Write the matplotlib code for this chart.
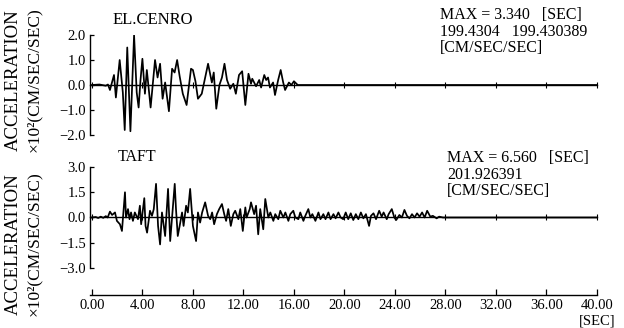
import matplotlib
matplotlib.use("Agg")
import matplotlib.pyplot as plt

plt.rcParams["font.family"] = ["Liberation Serif", "DejaVu Serif"]

# El Centro record, x10^2 cm/s/s
elc_t = [0.0, 0.6, 1.1, 1.27, 1.43, 1.75, 1.9, 2.2, 2.45, 2.6, 2.8, 3.05, 3.34,
         3.55, 3.7, 3.85, 4.0, 4.2, 4.35, 4.65, 5.0, 5.2, 5.4, 5.6, 5.8, 6.1,
         6.35, 6.55, 6.75, 6.95, 7.2, 7.5, 7.85, 8.0, 8.2, 8.4, 8.7, 8.95, 9.2,
         9.5, 9.65, 9.85, 10.1, 10.3, 10.5, 10.7, 10.95, 11.2, 11.4, 11.65,
         11.9, 12.15, 12.4, 12.6, 12.7, 13.0, 13.25, 13.4, 13.65, 13.8, 13.95,
         14.1, 14.35, 14.5, 14.75, 14.95, 15.15, 15.3, 15.6, 15.8, 16.0, 16.3,
         20.0, 40.0]
elc_a = [0.0, 0.02, -0.03, 0.02, -0.2, 0.4, -0.5, 1.0, -0.3, -1.8, 1.5, -1.85, 1.99,
         -0.3, -0.9, 0.2, 1.05, -0.35, 0.6, -0.9, 1.0, 0.3, 0.85, -0.55, 0.1, -1.05,
         0.65, 0.5, 1.0, 0.35, -0.35, -0.8, 0.65, 0.6, 0.15, -0.55, -0.35, 0.25, 0.85,
         0.1, 0.5, -0.95, 0.0, 0.3, 0.85, 0.2, -0.15, 0.05, -0.35, 0.4,
         0.55, -0.8, 0.45, 0.05, 0.25, -0.05, 0.2, -0.1, 0.4, 0.2, 0.3,
         -0.1, 0.1, -0.4, 0.2, 0.6, 0.1, -0.2, 0.1, 0.0, 0.15, 0.0,
         0.0, 0.0]

# Taft record, x10^2 cm/s/s
taft_t = [0.0, 0.3, 0.5, 0.7, 0.9, 1.1, 1.25, 1.43, 1.6, 1.83, 1.98, 2.22, 2.38,
          2.62, 2.7, 2.86, 2.98, 3.1, 3.25, 3.4, 3.65, 3.8, 3.9, 4.15, 4.25, 4.37,
          4.6, 4.76, 4.9, 5.08, 5.24, 5.4, 5.55, 5.8, 6.03, 6.2, 6.56, 6.66, 6.8,
          6.95, 7.14, 7.26, 7.46, 7.6, 7.78, 7.9, 8.0, 8.25, 8.4, 8.57, 8.73, 8.97,
          9.2, 9.37, 9.52, 9.68, 9.9, 10.08, 10.3, 10.48, 10.63, 10.8, 11.0, 11.2,
          11.35, 11.6, 11.75, 11.95, 12.15, 12.25, 12.4, 12.5, 12.6, 12.85, 13.0,
          13.17, 13.33, 13.57, 13.73, 13.97, 14.13, 14.37, 14.52, 14.76, 14.92,
          15.16, 15.32, 15.56, 15.71, 15.95, 16.11, 16.35, 16.5, 16.75, 16.9,
          17.14, 17.3, 17.46, 17.7, 17.94, 18.1, 18.33, 18.5, 18.73, 18.9, 19.13,
          19.3, 19.52, 19.7, 19.9, 20.1, 20.3, 20.5, 20.7, 20.9, 21.1, 21.3, 21.5,
          21.7, 21.95, 22.1, 22.3, 22.5, 22.75, 22.95, 23.1, 23.35, 23.5, 23.75,
          23.95, 24.1, 24.35, 24.55, 24.75, 24.95, 25.15, 25.35, 25.55, 25.75,
          25.95, 26.15, 26.35, 26.55, 26.8, 27.0, 27.3, 27.5, 27.8, 28.0, 40.0]
taft_a = [0.0, 0.03, -0.03, 0.05, -0.02, 0.08, 0.0, 0.35, 0.15, 0.3, -0.2, -0.4, -0.8,
          1.5, 0.0, 0.5, -0.1, 0.3, -0.2, 0.3, -0.1, 0.7, -0.4, 1.15, -0.5, -0.9,
          0.4, 0.1, 0.5, 2.0, -0.5, -1.6, 0.3, -1.1, 1.7, -1.4, 2.0, 0.5, -1.1,
          -0.5, 0.3, -0.5, 0.7, 0.3, 1.7, 0.5, -0.5, -1.4, 0.3, -0.3, 0.3, 0.9,
          0.1, -0.1, 0.3, -0.4, 0.2, 0.5, 0.8, 0.2, -0.2, 0.5, -0.5, 0.2,
          0.4, -0.1, 0.5, -0.8, 0.6, 0.0, 0.3, 0.5, 0.9, 0.2, 0.7,
          -1.0, 0.5, -0.7, 1.1, 0.0, 0.3, -0.2, 0.2, -0.1, 0.4,
          0.0, 0.3, -0.2, 0.2, 0.4, 0.0, -0.1, 0.3, -0.2, 0.1,
          0.5, 0.0, 0.2, -0.2, 0.3, -0.1, 0.2, -0.1, 0.3, -0.1, 0.2,
          -0.05, 0.3, 0.0, -0.1, 0.3, -0.1, 0.25, -0.15, 0.2, -0.1, 0.3, -0.05,
          0.2, -0.5, 0.1, 0.25, -0.1, 0.4, 0.05, 0.3, -0.1, 0.2, 0.5,
          0.0, -0.15, 0.15, 0.0, 0.45, 0.1, -0.05, 0.2, 0.0, 0.25,
          0.05, 0.3, 0.0, 0.4, 0.05, 0.1, -0.05, 0.05, 0.0, 0.0, 0.0]

time_ticks = [0, 4, 8, 12, 16, 20, 24, 28, 32, 36, 40]
elc_yticks = [-2.0, -1.0, 0.0, 1.0, 2.0]
taft_yticks = [-3.0, -1.5, 0.0, 1.5, 3.0]

W, H = 624, 328
fig = plt.figure(figsize=(W / 100, H / 100), dpi=100)


def px_axes(x0, y0, x1, y1):
    # pixel box (top-left origin) -> figure axes
    return fig.add_axes([x0 / W, 1 - y1 / H, (x1 - x0) / W, (y1 - y0) / H])


def record(ax, t, a, yticks):
    ax.plot(t, a, color="black", lw=1.25)
    ax.set_xlim(-0.15, 40)
    ax.set_ylim(yticks[0], yticks[-1])
    for s in ("top", "right"):
        ax.spines[s].set_visible(False)
    ax.spines["bottom"].set_position(("data", 0))
    ax.spines["bottom"].set_linewidth(1.0)
    ax.spines["left"].set_linewidth(1.0)
    ax.set_xticks(time_ticks)
    ax.tick_params(axis="x", direction="inout", length=4, width=0.8,
                   labelbottom=False)
    ax.set_yticks(yticks)
    ax.set_yticklabels([f"{v:.1f}".replace("-", "\u2212") for v in yticks])
    ax.tick_params(axis="y", direction="in", length=3, width=0.9,
                   labelsize=10.5, pad=3)
    ax.set_facecolor("none")


ax1 = px_axes(90, 35, 597, 135)
record(ax1, elc_t, elc_a, elc_yticks)
ax2 = px_axes(90, 167, 597, 268)
record(ax2, taft_t, taft_a, taft_yticks)

# separate time axis below
ax3 = px_axes(90, 280, 597, 295)
ax3.set_xlim(-0.15, 40)
for s in ("top", "right", "left"):
    ax3.spines[s].set_visible(False)
ax3.spines["bottom"].set_linewidth(1.0)
ax3.set_yticks([])
ax3.set_xticks(time_ticks)
ax3.set_xticklabels([f"{v:.2f}" for v in time_ticks])
ax3.tick_params(axis="x", direction="in", length=4, width=0.9,
                labelsize=10.5, pad=3)
ax3.set_facecolor("none")
fig.text(597 / W, 1 - 321 / H, "[SEC]", ha="center", va="center", fontsize=10.5)

# record titles and peak notes
fig.text(153 / W, 1 - 20 / H, "EL.CENRO", ha="center", va="center", fontsize=12)
fig.text(137 / W, 1 - 157 / H, "TAFT", ha="center", va="center", fontsize=11.5)

note = dict(ha="left", va="center", fontsize=11.5)
fig.text(440 / W, 1 - 15 / H, "MAX = 3.340   [SEC]", **note)
fig.text(440 / W, 1 - 32 / H, "199.4304   199.430389", **note)
fig.text(440 / W, 1 - 48 / H, "[CM/SEC/SEC]", **note)
fig.text(447 / W, 1 - 158 / H, "MAX = 6.560   [SEC]", **note)
fig.text(447 / W, 1 - 175 / H, "201.926391", **note)
fig.text(447 / W, 1 - 191 / H, "[CM/SEC/SEC]", **note)

# vertical axis captions
for yc in (80, 244):
    fig.text(13 / W, 1 - yc / H, "ACCELERATION", rotation=90,
             ha="center", va="center", fontsize=13.5)
    fig.text(34 / W, 1 - yc / H, "\u00d710\u00b2(CM/SEC/SEC)", rotation=90,
             ha="center", va="center", fontsize=12.5)

fig.savefig("out.png", dpi=100)
